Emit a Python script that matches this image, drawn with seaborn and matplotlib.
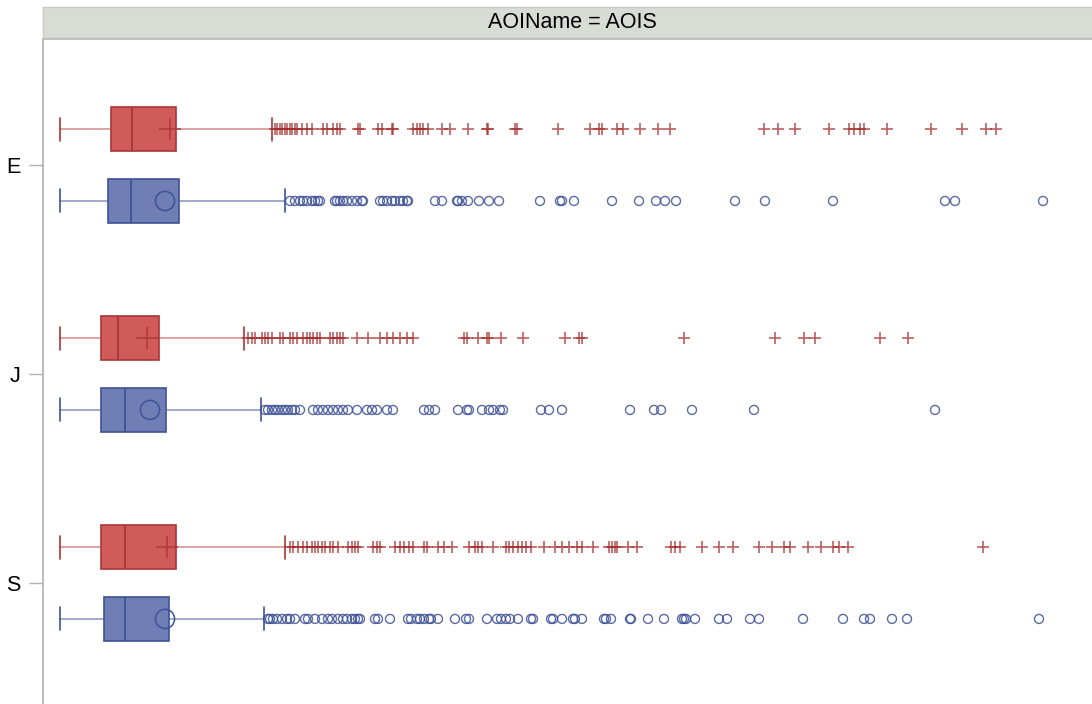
import matplotlib
matplotlib.use("Agg")
import matplotlib.pyplot as plt
import seaborn as sns
import pandas as pd

sns.set_theme(style="white")
plt.rcParams['font.family'] = ['Liberation Sans', 'DejaVu Sans']

# ---------------- data ----------------
categories = ["E", "J", "S"]
groups = ["A", "B"]          # A = red (+), B = blue (o)

# box statistics: whisker low, q1, median, q3, whisker high, mean
stats_E_A = [0, 51, 72, 116, 212, 110]
stats_E_B = [0, 48, 71, 119, 225, 105]
stats_J_A = [0, 41, 58, 99, 184, 87]
stats_J_B = [0, 41, 65, 106, 201, 90]
stats_S_A = [0, 41, 65, 116, 225, 107]
stats_S_B = [0, 44, 65, 109, 204, 105]

out_E_A = [215, 217, 220, 222, 225, 227, 230, 232, 235, 237, 242, 247, 252, 263, 267,
           273, 277, 280, 298, 300, 318, 322, 332, 333, 353, 357, 360, 363, 368, 382,
           390, 408, 427, 428, 455, 457, 498, 530, 539, 542, 557, 563, 580, 598, 610,
           704, 718, 735, 769, 789, 794, 800, 804, 827, 871, 902, 926, 936]
out_E_B = [230, 235, 240, 243, 247, 252, 255, 258, 260, 275, 277, 280, 283, 287, 292,
           297, 302, 303, 320, 323, 327, 332, 335, 340, 343, 347, 348, 375, 382, 397,
           398, 402, 408, 419, 429, 439, 480, 500, 502, 514, 552, 579, 596, 605, 616,
           675, 705, 773, 885, 895, 983]
out_J_A = [188, 192, 195, 202, 205, 208, 212, 220, 223, 230, 233, 237, 243, 247, 250,
           253, 257, 260, 270, 273, 277, 280, 283, 297, 308, 320, 327, 333, 340, 347,
           353, 404, 407, 418, 427, 429, 441, 463, 505, 519, 522, 624, 715, 744, 755,
           820, 848]
out_J_B = [205, 208, 212, 215, 218, 222, 225, 228, 232, 235, 240, 253, 258, 263, 268,
           273, 278, 283, 288, 297, 307, 312, 317, 327, 333, 364, 369, 375, 398, 407,
           409, 422, 429, 433, 440, 443, 481, 489, 502, 570, 594, 601, 632, 694, 875]
out_S_A = [230, 233, 238, 243, 247, 252, 255, 258, 262, 265, 270, 273, 278, 288, 292,
           295, 298, 313, 317, 320, 335, 340, 344, 349, 353, 364, 367, 378, 384, 392,
           409, 415, 418, 422, 433, 446, 449, 453, 458, 462, 466, 471, 484, 495, 502,
           509, 517, 522, 533, 549, 552, 555, 557, 568, 577, 611, 615, 620, 642, 659,
           673, 699, 712, 724, 730, 748, 761, 773, 779, 788, 923]
out_S_B = [208, 210, 213, 217, 222, 227, 230, 235, 245, 248, 255, 262, 268, 272, 278,
           283, 287, 292, 295, 298, 300, 315, 318, 330, 348, 351, 357, 360, 364, 369,
           371, 378, 395, 406, 409, 427, 437, 441, 446, 450, 458, 471, 473, 491, 493,
           502, 513, 515, 522, 544, 546, 551, 570, 571, 588, 604, 622, 624, 626, 635,
           659, 667, 690, 699, 743, 783, 804, 810, 832, 847, 979]

stats = {("E", "A"): stats_E_A, ("E", "B"): stats_E_B,
         ("J", "A"): stats_J_A, ("J", "B"): stats_J_B,
         ("S", "A"): stats_S_A, ("S", "B"): stats_S_B}
outliers = {("E", "A"): out_E_A, ("E", "B"): out_E_B,
            ("J", "A"): out_J_A, ("J", "B"): out_J_B,
            ("S", "A"): out_S_A, ("S", "B"): out_S_B}

# ---------------- style ----------------
W, H = 1092, 704
fig = plt.figure(figsize=(W / 100, H / 100), dpi=100)
ax = fig.add_axes([43 / W, (704 - 709) / H, 1.02, (709 - 39) / H])

offset = {"A": -0.172, "B": 0.172}
box_h = 0.21
fill = {"A": "#D15B5B", "B": "#6F7EB4"}
edge = {"A": "#A93636", "B": "#3E5196"}
whisk = {"A": (0.72, 0.30, 0.30, 0.6), "B": (0.28, 0.36, 0.62, 0.6)}

rows = []
for ci, cat in enumerate(categories):
    for g in groups:
        lo, q1, med, q3, hi, mean = stats[(cat, g)]
        pos = ci + offset[g]
        ax.bxp([dict(whislo=lo, q1=q1, med=med, q3=q3, whishi=hi, mean=mean, fliers=[])],
               positions=[pos], widths=box_h, orientation="horizontal",
               patch_artist=True, showfliers=False, showmeans=False,
               boxprops=dict(facecolor=fill[g], edgecolor=edge[g], linewidth=1.2),
               medianprops=dict(color=edge[g], linewidth=1.3),
               whiskerprops=dict(color=whisk[g], linewidth=1.2),
               capprops=dict(color=edge[g], linewidth=1.2),
               capwidths=0.11, manage_ticks=False)
        for v in outliers[(cat, g)]:
            rows.append(dict(x=v, y=pos, g=g))
        # mean markers
        if g == "A":
            ax.scatter([mean], [pos], marker="+", s=260, color=edge[g], linewidths=1.2,
                       alpha=0.85, zorder=5)
        else:
            ax.scatter([mean], [pos], marker="o", s=190, facecolors="none",
                       edgecolors=edge[g], linewidths=1.1, zorder=5)

df = pd.DataFrame(rows)
dA = df[df.g == "A"]
dB = df[df.g == "B"]
sns.scatterplot(data=dA, x="x", y="y", marker="+", s=65, color="#A52A2A",
                linewidth=1.2, alpha=0.75, ax=ax, legend=False, zorder=4)
sns.scatterplot(data=dB, x="x", y="y", marker="o", s=42, facecolor="none",
                edgecolor="#3E5196", linewidth=1.0, alpha=0.85, ax=ax, legend=False, zorder=4)

ax.set_xlim(-17, -17 + 1.02 * W)
ax.set_ylim(2.603, -0.603)
ax.set_yticks(range(len(categories)))
ax.set_yticklabels(categories, fontsize=15.5, color="black")
ax.set_xticks([])
ax.set_xlabel("")
ax.set_ylabel("")
for s in ["top", "right", "bottom"]:
    ax.spines[s].set_visible(False)
ax.spines["left"].set_color("#B0B0B0")
ax.spines["left"].set_linewidth(1.2)
ax.tick_params(axis="y", length=10, width=1.0, color="#B0B0B0", pad=6, left=True)

# top border line of the panel
fig.add_artist(plt.Line2D([43 / W, 1.0], [1 - 39 / H, 1 - 39 / H], color="#B8B8B8", lw=1.2,
                          transform=fig.transFigure))

# facet header
hax = fig.add_axes([43 / W, 1 - 38 / H, 1.02, 31 / H])
hax.set_facecolor("#D9DBD5")
hax.set_xticks([])
hax.set_yticks([])
for s in hax.spines.values():
    s.set_color("#C8C8C8")
    s.set_linewidth(1.0)
fig.text(572 / W, 1 - 23 / H, "AOIName = AOIS", ha="center", va="center", fontsize=15.5,
         color="black")

fig.savefig("out.png", dpi=100)
